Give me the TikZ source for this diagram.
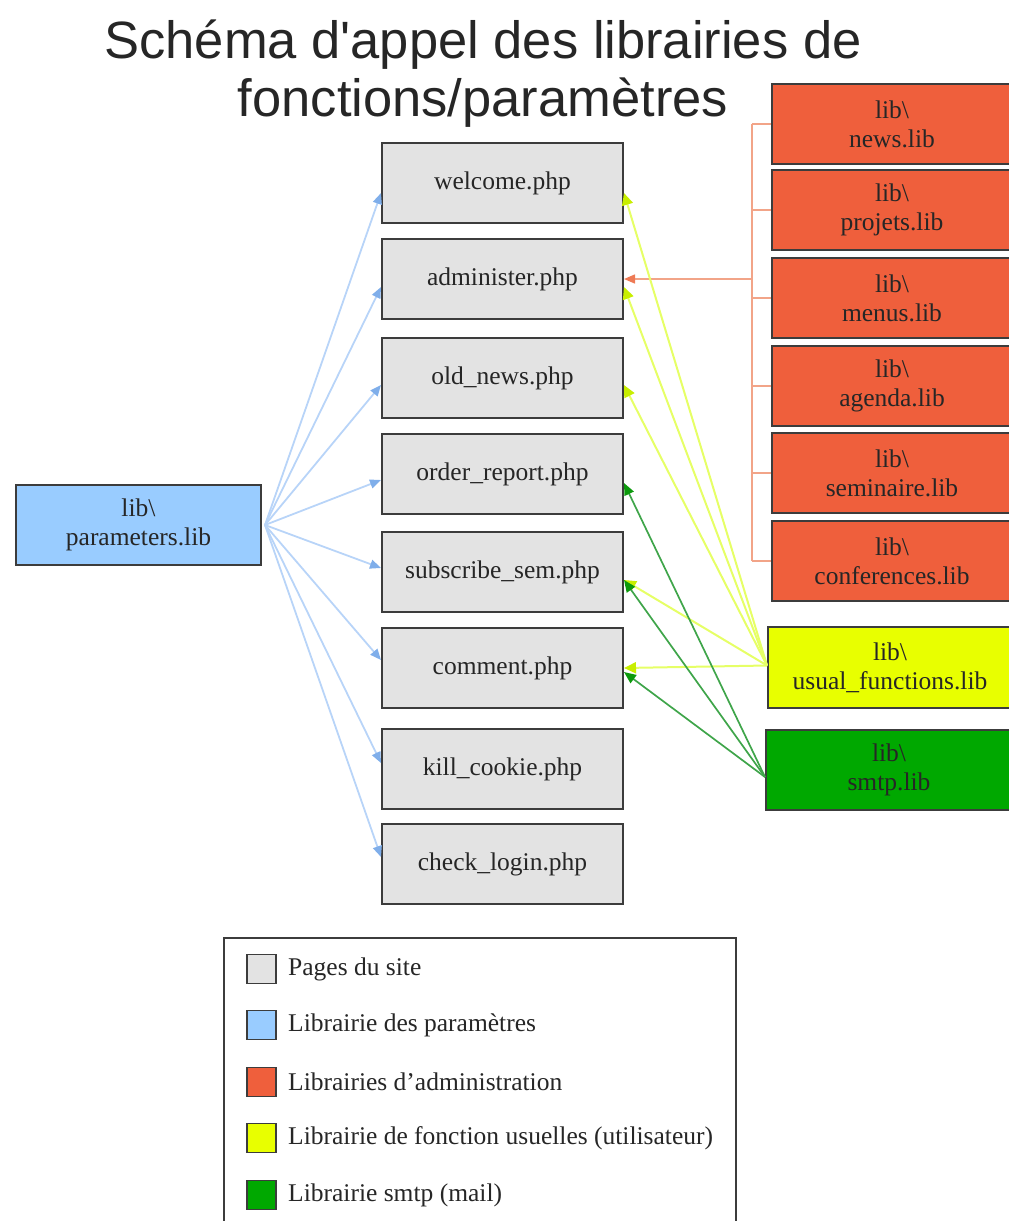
\documentclass[tikz,border=0pt]{standalone}
\usepackage{fontspec}
\setmainfont{Liberation Serif}
\newfontfamily\titlefont{Liberation Sans}
\usetikzlibrary{arrows.meta}
\definecolor{pagegray}{HTML}{E3E3E3}
\definecolor{paramblue}{HTML}{99CCFF}
\definecolor{adminred}{HTML}{EF5F3C}
\definecolor{usualyellow}{HTML}{E8FF00}
\definecolor{smtpgreen}{HTML}{00A800}
\definecolor{edgecol}{HTML}{3C3C3C}
\definecolor{bluewire}{HTML}{B8D4F8}
\definecolor{bluetip}{HTML}{7FAEEA}
\definecolor{yellowwire}{HTML}{E6FF66}
\definecolor{yellowtip}{HTML}{C8EE00}
\definecolor{greenwire}{HTML}{3FA54A}
\definecolor{greentip}{HTML}{0C9A0C}
\definecolor{redwire}{HTML}{F2A488}
\definecolor{redtip}{HTML}{EE7A55}
\begin{document}
\begin{tikzpicture}[x=1pt,y=-1pt,
  box/.style={draw=edgecol, line width=2pt, inner sep=0pt, align=center,
    font=\fontsize{25.5}{29}\selectfont, text=black!85},
  pagebox/.style={box, fill=pagegray, minimum width=241pt, minimum height=80pt},
  libbox/.style={box, minimum height=80pt},
  legsq/.style={draw=edgecol, line width=1.5pt, minimum size=29pt, inner sep=0pt},
  legtxt/.style={anchor=west, inner sep=0pt, font=\fontsize{25.5}{28}\selectfont, text=black!85},
  bluearrow/.style={draw=bluewire, line width=1.8pt, -{Triangle[length=11pt,width=9pt,color=bluetip]}},
  yellowarrow/.style={draw=yellowwire, line width=2pt, -{Triangle[length=12pt,width=11pt,color=yellowtip]}},
  greenarrow/.style={draw=greenwire, line width=1.7pt, -{Triangle[length=12pt,width=10pt,color=greentip]}},
  redarrow/.style={draw=redwire, line width=1.4pt, -{Triangle[length=11pt,width=9pt,color=redtip]}},
  redline/.style={draw=redwire, line width=1.2pt},
]
\useasboundingbox (0,0) rectangle (1009,1221);

% title
\node[font=\titlefont\fontsize{52.5}{58}\selectfont, text=black!85] (title1) at (483,45) {Schéma d'appel des librairies de};
\node[font=\titlefont\fontsize{52.5}{58}\selectfont, text=black!85] (title2) at (483,103) {fonctions/paramètres};

% pages
\node[pagebox] (welcome) at (502.5,183) {welcome.php};
\node[pagebox] (administer) at (502.5,279) {administer.php};
\node[pagebox] (oldnews) at (502.5,378) {old\_news.php};
\node[pagebox] (order) at (502.5,474) {order\_report.php};
\node[pagebox] (subscribe) at (502.5,572) {subscribe\_sem.php};
\node[pagebox] (comment) at (502.5,668) {comment.php};
\node[pagebox] (kill) at (502.5,769) {kill\_cookie.php};
\node[pagebox] (check) at (502.5,864) {check\_login.php};

% parameters
\node[libbox, fill=paramblue, minimum width=245pt] (params) at (138.5,525) {lib\textbackslash\\parameters.lib};

% admin libs
\node[libbox, fill=adminred, minimum width=240pt] (news) at (892,124) {lib\textbackslash\\news.lib};
\node[libbox, fill=adminred, minimum width=240pt] (projets) at (892,210) {lib\textbackslash\\projets.lib};
\node[libbox, fill=adminred, minimum width=240pt] (menus) at (892,298) {lib\textbackslash\\menus.lib};
\node[libbox, fill=adminred, minimum width=240pt] (agenda) at (892,386) {lib\textbackslash\\agenda.lib};
\node[libbox, fill=adminred, minimum width=240pt] (seminaire) at (892,473) {lib\textbackslash\\seminaire.lib};
\node[libbox, fill=adminred, minimum width=240pt] (conferences) at (892,561) {lib\textbackslash\\conferences.lib};

% usual + smtp
\node[libbox, fill=usualyellow, minimum width=244pt, minimum height=81pt] (usual) at (890,667.5) {lib\textbackslash\\usual\_functions.lib};
\node[libbox, fill=smtpgreen, minimum width=246pt] (smtp) at (889,770) {lib\textbackslash\\smtp.lib};

% red bracket
\coordinate (bx) at (752,0);
\draw[redline] (bx |- news.west) -- (bx |- conferences.west);
\foreach \n in {news,projets,menus,agenda,seminaire,conferences}
  \draw[redline] (bx |- \n.west) -- (\n.west);
\draw[redarrow] (bx |- administer.east) -- (administer.east);

% blue arrows
\coordinate (pstart) at ([xshift=3pt]params.east);
\draw[bluearrow] (pstart) -- ([yshift=-10pt]welcome.west);
\draw[bluearrow] (pstart) -- ([yshift=-8pt]administer.west);
\draw[bluearrow] (pstart) -- ([yshift=-7pt]oldnews.west);
\draw[bluearrow] (pstart) -- ([yshift=-6pt]order.west);
\draw[bluearrow] (pstart) -- ([yshift=4pt]subscribe.west);
\draw[bluearrow] (pstart) -- ([yshift=8pt]comment.west);
\draw[bluearrow] (pstart) -- ([yshift=6pt]kill.west);
\draw[bluearrow] (pstart) -- ([yshift=7pt]check.west);

% yellow arrows
\coordinate (ustart) at ([yshift=2pt]usual.west);
\draw[yellowarrow] (ustart) -- ([yshift=-10pt]welcome.east);
\draw[yellowarrow] (ustart) -- ([yshift=-8pt]administer.east);
\draw[yellowarrow] (ustart) -- ([yshift=-7pt]oldnews.east);
\draw[yellowarrow] (ustart) -- ([yshift=-8pt]subscribe.east);
\draw[yellowarrow] (ustart) -- (comment.east);

% green arrows
\coordinate (sstart) at ([yshift=-7pt]smtp.west);
\draw[greenarrow] (sstart) -- ([yshift=-9pt]order.east);
\draw[greenarrow] (sstart) -- ([yshift=-8pt]subscribe.east);
\draw[greenarrow] (sstart) -- ([yshift=-4pt]comment.east);

% legend
\draw[draw=edgecol, line width=1.5pt] (224,938) rectangle (736,1230);
\node[legsq, fill=pagegray] (lg1) at (261.5,969) {};
\node[legsq, fill=paramblue] (lg2) at (261.5,1025) {};
\node[legsq, fill=adminred] (lg3) at (261.5,1082) {};
\node[legsq, fill=usualyellow] (lg4) at (261.5,1138) {};
\node[legsq, fill=smtpgreen] (lg5) at (261.5,1195) {};
\node[legtxt] (lt1) at (288,969) {Pages du site};
\node[legtxt] (lt2) at (288,1025) {Librairie des paramètres};
\node[legtxt] (lt3) at (288,1082) {Librairies d'administration};
\node[legtxt] (lt4) at (288,1138) {Librairie de fonction usuelles (utilisateur)};
\node[legtxt] (lt5) at (288,1195) {Librairie smtp (mail)};
\end{tikzpicture}
\end{document}
